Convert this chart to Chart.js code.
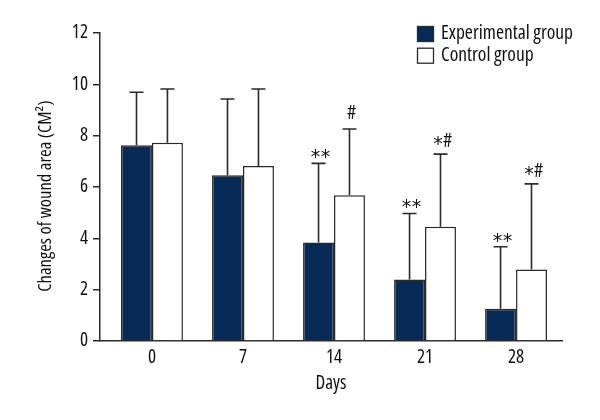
<!DOCTYPE html>
<html>
<head>
<meta charset="utf-8">
<script src="https://cdn.jsdelivr.net/npm/chart.js@4/dist/chart.umd.min.js"></script>
<style>
  html, body { margin: 0; padding: 0; background: #fff; }
  #wrap { width: 600px; height: 420px; }
</style>
</head>
<body>
<div id="wrap"><canvas id="c" width="600" height="420"></canvas></div>
<script>
const days = ['0', '7', '14', '21', '28'];
const expMeans = [7.63, 6.46, 3.84, 2.40, 1.26];
const expErr   = [2.06, 2.97, 3.08, 2.57, 2.41];
const ctrlMeans = [7.72, 6.82, 5.68, 4.45, 2.79];
const ctrlErr   = [2.10, 3.00, 2.58, 2.83, 3.33];
const expMarks  = ['', '', '**', '**', '**'];
const ctrlMarks = ['', '', '#', '*#', '*#'];
const seriesNames = ['Experimental group', 'Control group'];
const yTitle = 'Changes of wound area (CM\u00B2)';
const xTitle = 'Days';

const FAMILY = "'Open Sans', 'DejaVu Sans', sans-serif";
const STRETCH = 'condensed 500';
const cfont = (px) => STRETCH + ' ' + px + 'px ' + FAMILY;
const NAVY = '#082a57';
const LINE = '#2a2a2a';
const TXT = '#111';

function markLift(m) {
  if (m === '**') return 9.5;
  if (m === '#') return 16.5;
  return 13.7;
}

function drawMark(ctx, m, x, cy) {
  const parts = m.split('').map(ch => {
    const f = ch === '*' ? "19px 'DejaVu Sans', sans-serif" : cfont(20);
    ctx.font = f;
    const mt = ctx.measureText(ch);
    const adv = ch === '*' ? 10 : mt.width;
    return { ch, f, mt, adv };
  });
  const total = parts.reduce((a, p) => a + p.adv, 0);
  let cx = x - total / 2;
  ctx.fillStyle = TXT;
  ctx.textAlign = 'center';
  ctx.textBaseline = 'alphabetic';
  parts.forEach(p => {
    ctx.font = p.f;
    const asc = p.mt.actualBoundingBoxAscent;
    const desc = p.mt.actualBoundingBoxDescent;
    const base = cy - (desc - asc) / 2;
    ctx.fillText(p.ch, cx + p.adv / 2, base);
    cx += p.adv;
  });
}

const errPlugin = {
  id: 'errbars',
  afterDatasetsDraw(chart) {
    const ctx = chart.ctx;
    const ys = chart.scales.y;
    const sets = [[expMeans, expErr, expMarks], [ctrlMeans, ctrlErr, ctrlMarks]];
    ctx.save();
    sets.forEach((s, di) => {
      const meta = chart.getDatasetMeta(di);
      meta.data.forEach((el, j) => {
        const x = el.x;
        const yb = el.y;
        const yt = ys.getPixelForValue(s[0][j] + s[1][j]);
        ctx.strokeStyle = LINE;
        ctx.lineWidth = 1.6;
        ctx.beginPath();
        ctx.moveTo(x, yb);
        ctx.lineTo(x, yt);
        ctx.moveTo(x - 7, yt);
        ctx.lineTo(x + 7, yt);
        ctx.stroke();
        if (s[2][j]) drawMark(ctx, s[2][j], x + 2, yt - markLift(s[2][j]));
      });
    });
    ctx.restore();
  }
};

const deco = {
  id: 'deco',
  beforeDraw(chart) {
    const ctx = chart.ctx;
    ctx.save();
    ctx.fillStyle = '#fff';
    ctx.fillRect(0, 0, chart.width, chart.height);
    ctx.restore();
  },
  afterDraw(chart) {
    const ctx = chart.ctx;
    ctx.save();
    ctx.translate(46, 196);
    ctx.rotate(-Math.PI / 2);
    ctx.fillStyle = TXT;
    ctx.font = cfont(18.6);
    ctx.textAlign = 'center';
    ctx.textBaseline = 'middle';
    ctx.fillText(yTitle, 0, 0);
    ctx.restore();
    ctx.save();
    const fills = [NAVY, '#fff'];
    ctx.font = cfont(19.5);
    ctx.textBaseline = 'middle';
    ctx.textAlign = 'left';
    seriesNames.forEach((n, i) => {
      const by = 26.5 + i * 21.7;
      ctx.fillStyle = fills[i];
      ctx.fillRect(417.5, by, 16, 15);
      ctx.strokeStyle = LINE;
      ctx.lineWidth = 1.3;
      ctx.strokeRect(417.5, by, 16, 15);
      ctx.fillStyle = TXT;
      ctx.fillText(n, 441, by + 7);
    });
    ctx.restore();
  }
};

new Chart(document.getElementById('c'), {
  type: 'bar',
  data: {
    datasets: [
      {
        label: seriesNames[0],
        data: expMeans.map((v, i) => ({ x: i, y: v })),
        backgroundColor: NAVY,
        borderColor: LINE,
        borderWidth: 1.5,
        categoryPercentage: 0.68,
        barPercentage: 1.0
      },
      {
        label: seriesNames[1],
        data: ctrlMeans.map((v, i) => ({ x: i, y: v })),
        backgroundColor: '#ffffff',
        borderColor: LINE,
        borderWidth: 1.5,
        categoryPercentage: 0.68,
        barPercentage: 1.0
      }
    ]
  },
  options: {
    responsive: false,
    animation: false,
    devicePixelRatio: 1,
    layout: { padding: { top: 33, right: 38, left: 0, bottom: 0 } },
    plugins: { legend: { display: false }, tooltip: { enabled: false } },
    scales: {
      x: {
        type: 'linear',
        offset: false,
        min: -0.571,
        max: 4.505,
        afterBuildTicks(scale) { scale.ticks = days.map((d, i) => ({ value: i })); },
        afterFit(scale) { scale.height = 79; },
        grid: { display: false, drawTicks: false, offset: false },
        border: { display: true, color: LINE, width: 1.5 },
        ticks: {
          callback: (v) => days[v] !== undefined ? days[v] : '',
          font: { family: FAMILY, size: 19, weight: STRETCH },
          color: TXT,
          padding: 5,
          maxRotation: 0,
          autoSkip: false
        },
        title: {
          display: true,
          text: xTitle,
          font: { family: FAMILY, size: 19, weight: STRETCH },
          color: TXT,
          padding: { top: 0, bottom: 25 }
        }
      },
      y: {
        min: 0,
        max: 12,
        afterFit(scale) { scale.width = 100; },
        ticks: {
          stepSize: 2,
          font: { family: FAMILY, size: 19, weight: STRETCH },
          color: TXT,
          padding: 5
        },
        grid: { display: true, drawOnChartArea: false, drawTicks: true, tickLength: 7, color: LINE, lineWidth: 1.5 },
        border: { display: true, color: LINE, width: 1.5 }
      }
    }
  },
  plugins: [deco, errPlugin]
});
</script>
</body>
</html>
